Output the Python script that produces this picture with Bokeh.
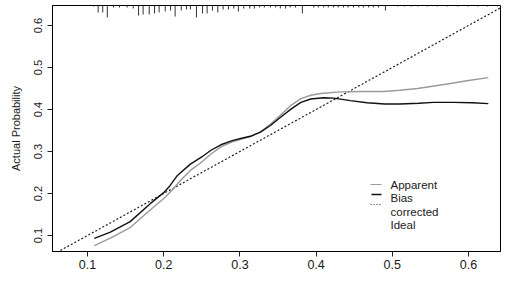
from bokeh.plotting import figure
from bokeh.models import FixedTicker, Range1d
from bokeh.core.properties import value
from bokeh.embed import file_html
from bokeh.resources import INLINE

# ---- data ----
apparent_x = [0.109, 0.130, 0.156, 0.183, 0.202, 0.212, 0.222, 0.235, 0.248, 0.262,
              0.275, 0.290, 0.301, 0.315, 0.327, 0.340, 0.353, 0.367, 0.380, 0.393,
              0.406, 0.432, 0.460, 0.489, 0.510, 0.533, 0.555, 0.576, 0.600, 0.626]
apparent_y = [0.076, 0.094, 0.119, 0.162, 0.191, 0.210, 0.231, 0.255, 0.272, 0.294,
              0.311, 0.323, 0.329, 0.336, 0.347, 0.365, 0.386, 0.410, 0.426, 0.434,
              0.438, 0.442, 0.443, 0.443, 0.446, 0.450, 0.456, 0.462, 0.469, 0.476]

bias_x = [0.109, 0.130, 0.156, 0.183, 0.200, 0.208, 0.218, 0.235, 0.250, 0.262,
          0.275, 0.290, 0.301, 0.315, 0.327, 0.340, 0.353, 0.367, 0.380, 0.393,
          0.410, 0.423, 0.445, 0.467, 0.490, 0.510, 0.535, 0.554, 0.580, 0.605, 0.626]
bias_y = [0.093, 0.108, 0.133, 0.177, 0.202, 0.218, 0.243, 0.270, 0.287, 0.303,
          0.316, 0.326, 0.331, 0.337, 0.346, 0.362, 0.381, 0.401, 0.417, 0.425,
          0.428, 0.427, 0.421, 0.416, 0.413, 0.413, 0.415, 0.417, 0.417, 0.416, 0.414]

ideal_x = [0.0, 1.0]
ideal_y = [0.0, 1.0]

rug_x = [0.108, 0.114, 0.120, 0.126, 0.134, 0.142, 0.152, 0.160, 0.167, 0.173,
         0.181, 0.188, 0.194, 0.202, 0.209, 0.215, 0.223, 0.230, 0.235, 0.243,
         0.251, 0.257, 0.264, 0.271, 0.278, 0.285, 0.292, 0.298, 0.305, 0.313,
         0.319, 0.326, 0.332, 0.340, 0.347, 0.353, 0.360, 0.366, 0.373, 0.382,
         0.397, 0.403, 0.410, 0.416, 0.423, 0.429, 0.436, 0.442, 0.449, 0.456,
         0.462, 0.469, 0.475, 0.482, 0.491, 0.507, 0.516, 0.525, 0.534, 0.546,
         0.559, 0.572, 0.586, 0.599, 0.612, 0.625, 0.638]
rug_freq = [1, 7, 7, 12, 2, 2, 2, 3, 10, 9,
            9, 8, 7, 6, 5, 11, 5, 4, 4, 12,
            8, 8, 5, 7, 4, 4, 3, 6, 3, 3,
            3, 2, 2, 2, 2, 3, 3, 2, 2, 8,
            2, 2, 2, 2, 2, 2, 2, 2, 2, 2,
            2, 2, 2, 2, 5, 1, 1, 1, 1, 1,
            1, 1, 1, 1, 1, 1, 1]

x_ticks = [0.1, 0.2, 0.3, 0.4, 0.5, 0.6]
y_ticks = [0.1, 0.2, 0.3, 0.4, 0.5, 0.6]
legend_labels = ["Apparent", "Bias", "corrected", "Ideal"]

# ---- layout ----
FONT = "Liberation Sans"
PXX = 762.0   # px per unit x
PXY = 420.0   # px per unit y
X0, X1 = 0.1 - 35 / PXX, 0.6 + 32 / PXX
Y0, Y1 = 0.1 - 16 / PXY, 0.6 + 20 / PXY

def dx(ix):   # canvas px -> data x
    return 0.1 + (ix - 87) / PXX

def dy(iy):   # canvas px -> data y
    return 0.1 + (235 - iy) / PXY

p = figure(width=502, height=274, output_backend="svg", toolbar_location=None,
           x_range=Range1d(X0, X1), y_range=Range1d(Y0, Y1),
           min_border_left=52, min_border_right=2, min_border_top=5,
           min_border_bottom=23)
p.grid.visible = False
p.outline_line_color = "black"
p.outline_line_width = 1
p.background_fill_color = "white"
p.border_fill_color = "white"

for ax in (p.xaxis[0], p.yaxis[0]):
    ax.major_tick_in = 0
    ax.major_tick_out = 5
    ax.minor_tick_line_color = None
    ax.axis_line_color = "black"
    ax.major_tick_line_color = "#222222"
    ax.major_label_text_font = FONT
    ax.major_label_text_color = "#1a1a1a"

p.xaxis.ticker = FixedTicker(ticks=x_ticks)
p.yaxis.ticker = FixedTicker(ticks=y_ticks)
p.xaxis.major_label_text_font_size = "12.5px"
p.xaxis.major_label_standoff = 3
p.yaxis.major_label_text_font_size = "11px"
p.yaxis.major_label_orientation = "parallel"
p.yaxis.major_label_standoff = 6
p.yaxis.axis_label = "Actual Probability"
p.yaxis.axis_label_text_font = FONT
p.yaxis.axis_label_text_font_size = "11px"
p.yaxis.axis_label_text_font_style = "normal"
p.yaxis.axis_label_text_color = "#1a1a1a"
p.yaxis.axis_label_standoff = 9

# ideal line
p.line(ideal_x, ideal_y, line_color="#222222", line_width=1.2, line_dash="2 2")
# curves
p.line(apparent_x, apparent_y, line_color="#9a9a9a", line_width=1.4)
p.line(bias_x, bias_y, line_color="#111111", line_width=1.4)

# rug along top edge
rug_top = [Y1] * len(rug_x)
rug_bot = [Y1 - f / PXY for f in rug_freq]
p.segment(x0=rug_x, y0=rug_top, x1=rug_x, y1=rug_bot, line_color="#333333", line_width=1)

# legend (manual, R-style)
p.segment(x0=[dx(370)], y0=[dy(184)], x1=[dx(381)], y1=[dy(184)], line_color="#9a9a9a", line_width=1)
p.segment(x0=[dx(371)], y0=[dy(194)], x1=[dx(381)], y1=[dy(194)], line_color="#111111", line_width=1.5)
p.segment(x0=[dx(370)], y0=[dy(204)], x1=[dx(381)], y1=[dy(204)], line_color="#222222", line_width=1, line_dash="1 2")
p.text(x=[dx(390)] * 4, y=[dy(184), dy(197.5), dy(211), dy(224.5)], text=legend_labels,
       text_font=value(FONT), text_font_size="11.5px", text_baseline="middle",
       text_align="left", text_color="#1a1a1a")

open("out.html", "w").write(file_html(p, INLINE))
